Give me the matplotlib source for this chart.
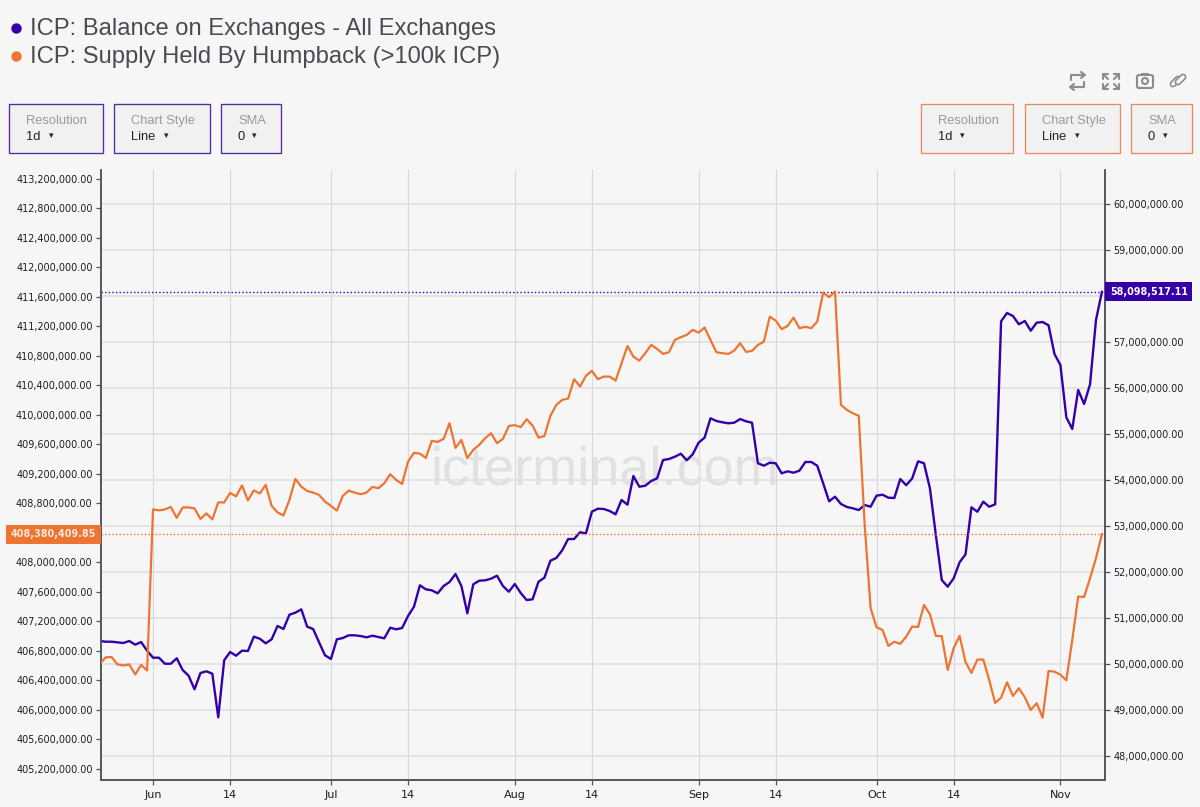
import matplotlib
matplotlib.use("Agg")
import matplotlib.dates as mdates
import matplotlib.pyplot as plt
import pandas as pd
from matplotlib.patches import Circle, FancyBboxPatch, Rectangle

# daily values, millions of ICP
start_date = "2022-05-23"
humpback_supply = [
    406.619, 406.707, 406.714, 406.612, 406.598, 406.612, 406.476, 406.605, 406.530, 408.715,
    408.702, 408.715, 408.749, 408.600, 408.742, 408.742, 408.729, 408.586, 408.661, 408.579,
    408.810, 408.810, 408.939, 408.891, 409.041, 408.837, 408.973, 408.932, 409.048, 408.763,
    408.674, 408.634, 408.844, 409.129, 409.024, 408.966, 408.943, 408.912, 408.821, 408.763,
    408.699, 408.898, 408.970, 408.943, 408.921, 408.943, 409.020, 409.003, 409.071, 409.193,
    409.115, 409.061, 409.364, 409.482, 409.472, 409.414, 409.645, 409.631, 409.672, 409.885,
    409.550, 409.658, 409.410, 409.523, 409.590, 409.681, 409.749, 409.613, 409.672, 409.848,
    409.858, 409.831, 409.939, 409.852, 409.689, 409.712, 409.984, 410.133, 410.201, 410.219,
    410.482, 410.382, 410.527, 410.595, 410.482, 410.517, 410.517, 410.463, 410.699, 410.933,
    410.789, 410.734, 410.835, 410.947, 410.893, 410.825, 410.848, 411.015, 411.052, 411.083,
    411.151, 411.114, 411.182, 411.015, 410.848, 410.835, 410.825, 410.870, 410.970, 410.852,
    410.866, 410.947, 410.992, 411.331, 411.277, 411.160, 411.205, 411.318, 411.174, 411.192,
    411.174, 411.264, 411.657, 411.595, 411.671, 410.133, 410.065, 410.020, 409.984, 408.505,
    407.374, 407.116, 407.080, 406.863, 406.921, 406.890, 406.989, 407.125, 407.121, 407.419,
    407.293, 406.999, 406.995, 406.537, 406.832, 406.999, 406.646, 406.497, 406.678, 406.678,
    406.401, 406.089, 406.161, 406.370, 406.184, 406.289, 406.167, 405.994, 406.085, 405.890,
    406.524, 406.514, 406.473, 406.397, 406.944, 407.532, 407.528, 407.782, 408.053, 408.38040985,
]
exchange_balance = [
    50.502, 50.487, 50.487, 50.474, 50.459, 50.502, 50.422, 50.480, 50.291, 50.139,
    50.139, 50.008, 50.008, 50.126, 49.871, 49.747, 49.451, 49.806, 49.843, 49.791,
    48.842, 50.082, 50.263, 50.182, 50.291, 50.285, 50.596, 50.552, 50.452, 50.539,
    50.829, 50.763, 51.074, 51.118, 51.192, 50.813, 50.763, 50.474, 50.191, 50.111,
    50.539, 50.567, 50.626, 50.626, 50.611, 50.582, 50.617, 50.589, 50.561, 50.791,
    50.757, 50.785, 51.046, 51.248, 51.714, 51.627, 51.605, 51.540, 51.699, 51.786,
    51.960, 51.699, 51.105, 51.736, 51.814, 51.823, 51.858, 51.923, 51.699, 51.575,
    51.742, 51.547, 51.394, 51.409, 51.792, 51.880, 52.249, 52.308, 52.476, 52.721,
    52.721, 52.867, 52.845, 53.315, 53.381, 53.374, 53.331, 53.259, 53.570, 53.468,
    54.092, 53.859, 53.881, 53.983, 54.042, 54.440, 54.462, 54.512, 54.577, 54.434,
    54.564, 54.817, 54.926, 55.348, 55.289, 55.261, 55.239, 55.252, 55.332, 55.282,
    55.252, 54.369, 54.316, 54.382, 54.369, 54.151, 54.194, 54.164, 54.208, 54.397,
    54.397, 54.316, 53.933, 53.542, 53.642, 53.483, 53.418, 53.389, 53.352, 53.461,
    53.424, 53.664, 53.685, 53.620, 53.614, 54.027, 53.892, 54.038, 54.412, 54.369,
    53.825, 52.808, 51.829, 51.684, 51.866, 52.214, 52.387, 53.411, 53.315, 53.533,
    53.424, 53.476, 57.458, 57.639, 57.573, 57.393, 57.465, 57.254, 57.428, 57.443,
    57.371, 56.747, 56.507, 55.369, 55.115, 55.963, 55.659, 56.087, 57.486, 58.09851711,
]
date_ticks = ["2022-06-01", "2022-06-14", "2022-07-01", "2022-07-14", "2022-08-01", "2022-08-14",
              "2022-09-01", "2022-09-14", "2022-10-01", "2022-10-14", "2022-11-01"]
date_labels = ["Jun", "14", "Jul", "14", "Aug", "14", "Sep", "14", "Oct", "14", "Nov"]
left_ticks = [405.2 + 0.4 * n for n in range(21)]
right_ticks = list(range(48, 61))

PURPLE = "#3500a8"
ORANGE = "#ee7432"
BACKGROUND = "#f6f6f6"
AXIS_COLOR = "#4d535b"
GRID_COLOR = "#dcdee0"
TICK_FONT = 6.9

dates = pd.date_range(start_date, periods=len(humpback_supply), freq="D")

fig = plt.figure(figsize=(12, 8.07), dpi=100, facecolor=BACKGROUND)
ax2 = fig.add_axes([101 / 1200, 1 - 780 / 807, 1004 / 1200, 610 / 807], facecolor=BACKGROUND)
ax = ax2.twinx()
ax.yaxis.tick_left()
ax.set_zorder(ax2.get_zorder() + 1)
ax.patch.set_visible(False)

ax2.plot(dates, exchange_balance, color=PURPLE, lw=1.7, zorder=3)
ax.plot(dates, humpback_supply, color=ORANGE, lw=1.6, zorder=3)

ax2.set_xlim(mdates.date2num(pd.Timestamp("2022-05-23 05:30")), mdates.date2num(pd.Timestamp("2022-11-08 12:30")))
ax.set_ylim(405.044, 413.32)
ax2.set_ylim(47.478, 60.75)

ax2.set_xticks(mdates.date2num(pd.to_datetime(date_ticks)))
ax2.set_xticklabels(date_labels, fontsize=8, color="#1c1c1c")
# the last-value boxes sit on top of these two tick labels in the original
ax.set_yticks(left_ticks)
ax.set_yticklabels(["" if abs(v - 408.4) < 0.01 else f"{v * 1e6:,.2f}" for v in left_ticks],
                   fontsize=TICK_FONT, color="#1c1c1c")
ax2.yaxis.tick_right()
ax2.set_yticks(right_ticks)
ax2.set_yticklabels(["" if v == 58 else f"{v * 1e6:,.2f}" for v in right_ticks],
                    fontsize=TICK_FONT, color="#1c1c1c")

ax2.grid(True, axis="y", color=GRID_COLOR, lw=1.1, zorder=0)
ax2.grid(True, axis="x", color="#d5d9dd", lw=0.8, zorder=0)
ax2.set_axisbelow(True)

for a in (ax, ax2):
    a.tick_params(length=3.5, width=0.9, color=AXIS_COLOR, pad=2.5)
    a.spines["top"].set_visible(False)
    for side in ("left", "right", "bottom"):
        a.spines[side].set_color(AXIS_COLOR)
        a.spines[side].set_linewidth(1.1)
ax2.tick_params(axis="x", pad=4)

ax2.text(0.5017, 0.5075, "icterminal.com", transform=ax2.transAxes, ha="center", va="center",
         fontsize=39, family="Liberation Sans", color="#e0e1e3", zorder=1)

# last-value markers
ax.axhline(humpback_supply[-1], color=ORANGE, lw=1.0, ls=(0, (1, 1.6)), zorder=2)
ax2.axhline(exchange_balance[-1], color=PURPLE, lw=1.0, ls=(0, (1, 1.6)), zorder=2)
ax.annotate(f"{humpback_supply[-1] * 1e6:,.2f}", xy=(0, humpback_supply[-1]),
            xycoords=ax.get_yaxis_transform(), xytext=(-5, 0), textcoords="offset pixels",
            ha="right", va="center", fontsize=TICK_FONT, fontweight="bold", color="#fde9dc", zorder=6,
            annotation_clip=False,
            bbox=dict(boxstyle="square,pad=0.47", fc=ORANGE, ec=ORANGE, lw=0))
ax.annotate(f"{exchange_balance[-1] * 1e6:,.2f}",
            xy=(1, ax.transData.inverted().transform(ax2.transData.transform((0, exchange_balance[-1])))[1]),
            xycoords=ax.get_yaxis_transform(), xytext=(5, 0), textcoords="offset pixels",
            ha="left", va="center", fontsize=TICK_FONT, fontweight="bold", color="white", zorder=6,
            annotation_clip=False,
            bbox=dict(boxstyle="square,pad=0.47", fc=PURPLE, ec=PURPLE, lw=0))

# page furniture in pixel coordinates
page = fig.add_axes([0, 0, 1, 1], facecolor="none")
page.set_xlim(0, 1200)
page.set_ylim(807, 0)
page.axis("off")
page.set_zorder(ax.get_zorder() + 1)

for y, color, text in [(28, PURPLE, "ICP: Balance on Exchanges - All Exchanges"),
                       (56, ORANGE, "ICP: Supply Held By Humpback (>100k ICP)")]:
    page.add_patch(Circle((16.5, y + 0.5), 5.2, fc=color, ec="none"))
    page.text(30.5, y + 1.5, text, fontsize=17.1, family="Liberation Sans", color="#474c52", va="center")


def draw_button(x0, x1, edge, label, value, arrow_dx):
    page.add_patch(Rectangle((x0, 104), x1 - x0, 49, fc="#f1f1f1", ec=edge, lw=0.95))
    page.text(x0 + 17, 121, label, fontsize=9.3, family="Liberation Sans", color="#9a9a9a", va="center")
    page.text(x0 + 17, 136.5, value, fontsize=9.3, family="Liberation Sans", color="#222222", va="center")
    page.text(x0 + 17 + arrow_dx, 136, "▾", fontsize=6.5, color="#222222", va="center", ha="center")


for x0, x1, label, value, arrow_dx in [(9, 103, "Resolution", "1d", 25), (114, 210, "Chart Style", "Line", 35),
                                       (221, 281, "SMA", "0", 16)]:
    draw_button(x0, x1, "#4f2da0", label, value, arrow_dx)
for x0, x1, label, value, arrow_dx in [(921, 1013, "Resolution", "1d", 24), (1025, 1120, "Chart Style", "Line", 35),
                                       (1131, 1192, "SMA", "0", 17)]:
    draw_button(x0, x1, "#e58d5c", label, value, arrow_dx)

# toolbar icons
ICON = "#8a8d90"
icon_kw = dict(color=ICON, lw=1.5, solid_capstyle="round")
page.plot([1071, 1071, 1084], [80, 75, 75], **icon_kw)
page.plot([1081, 1085, 1081], [72, 75, 78], **icon_kw)
page.plot([1084, 1084, 1071], [82, 87, 87], **icon_kw)
page.plot([1074, 1070, 1074], [84, 87, 90], **icon_kw)
for cx, cy, dx, dy in [(1103, 74, 1, 1), (1119, 74, -1, 1), (1103, 89, 1, -1), (1119, 89, -1, -1)]:
    page.plot([cx, cx + 5 * dx], [cy, cy], **icon_kw)
    page.plot([cx, cx], [cy, cy + 5 * dy], **icon_kw)
    page.plot([cx, cx + 5 * dx], [cy, cy + 5 * dy], **icon_kw)
page.add_patch(FancyBboxPatch((1137, 75), 16, 13, boxstyle="round,pad=0,rounding_size=2", fc="none", ec=ICON, lw=1.5))
page.add_patch(Rectangle((1141, 73), 8, 2, fc=ICON, ec="none"))
page.add_patch(Circle((1145, 81), 3, fc="none", ec=ICON, lw=1.5))
# link: two hollow capsules
for xs, ys in [([1173, 1178], [84, 79]), ([1178, 1183], [82, 77])]:
    page.plot(xs, ys, color=ICON, lw=5, solid_capstyle="round")
    page.plot(xs, ys, color=BACKGROUND, lw=2.6, solid_capstyle="round")

fig.savefig("out.png", dpi=100, facecolor=fig.get_facecolor())
